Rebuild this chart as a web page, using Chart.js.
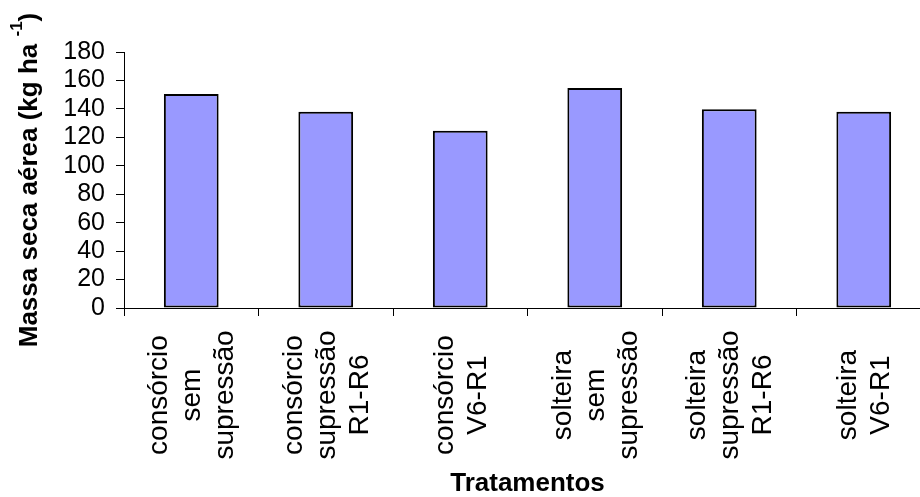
<!DOCTYPE html>
<html>
<head>
<meta charset="utf-8">
<script src="https://cdn.jsdelivr.net/npm/chart.js@4/dist/chart.umd.min.js"></script>
<style>
  html, body { margin: 0; padding: 0; background: #fff; overflow: hidden; }
  #wrap { width: 920px; height: 497px; overflow: hidden; position: relative; }
  canvas { display: block; }
</style>
</head>
<body>
<div id="wrap"><canvas id="c" width="940" height="497"></canvas></div>
<script>
// Treatments (one array of lines per category)
const categories = [
  ['consórcio', 'sem', 'supressão'],
  ['consórcio', 'supressão', 'R1-R6'],
  ['consórcio', 'V6-R1'],
  ['solteira', 'sem', 'supressão'],
  ['solteira', 'supressão', 'R1-R6'],
  ['solteira', 'V6-R1']
];

// Shoot dry mass (kg ha-1)
const massaSeca = [150.4, 138.0, 124.7, 154.7, 139.7, 138.0];

const yTicks = [0, 20, 40, 60, 80, 100, 120, 140, 160, 180];

const yTitleMain = 'Massa seca aérea (kg ha';
const yTitleSup = '-1';
const yTitleEnd = ')';
const xTitle = 'Tratamentos';

const FONT = '"Liberation Sans", Arial, sans-serif';

// Multi-line category labels, rotated and centred under each bar
const treatmentLabels = {
  id: 'treatmentLabels',
  afterDraw(chart) {
    const ctx = chart.ctx;
    const xs = chart.scales.x;
    const size = 28, lineH = 33;
    ctx.save();
    ctx.fillStyle = '#000';
    ctx.font = size + 'px ' + FONT;
    ctx.textAlign = 'center';
    ctx.textBaseline = 'alphabetic';
    categories.forEach((lines, i) => {
      const cx = xs.getPixelForValue(i);
      const n = lines.length;
      lines.forEach((txt, j) => {
        const bx = cx + (j - (n - 1) / 2) * lineH + 9;
        ctx.save();
        ctx.translate(bx, 395);
        ctx.rotate(-Math.PI / 2);
        ctx.fillText(txt, 0, 0);
        ctx.restore();
      });
    });
    ctx.restore();
  }
};

// Y axis title with superscript unit exponent
const yAxisTitle = {
  id: 'yAxisTitle',
  afterDraw(chart) {
    const ctx = chart.ctx;
    const area = chart.chartArea;
    const cy = (area.top + area.bottom) / 2;
    const big = 'bold 26px ' + FONT;
    const small = 'bold 17px ' + FONT;
    ctx.save();
    ctx.fillStyle = '#000';
    ctx.textBaseline = 'alphabetic';
    ctx.textAlign = 'left';
    ctx.font = big;
    const mainW = ctx.measureText(yTitleMain).width;
    const gap = ctx.measureText(' ').width;
    const endW = ctx.measureText(yTitleEnd).width;
    ctx.font = small;
    const supW = ctx.measureText(yTitleSup).width;
    const total = mainW + gap + supW + endW;
    ctx.translate(37, cy);
    ctx.rotate(-Math.PI / 2);
    let x0 = -total / 2;
    ctx.font = big;
    ctx.fillText(yTitleMain, x0, 0);
    x0 += mainW + gap;
    ctx.font = small;
    ctx.fillText(yTitleSup, x0, -15);
    x0 += supW;
    ctx.font = big;
    ctx.fillText(yTitleEnd, x0, 0);
    ctx.restore();
  }
};

new Chart(document.getElementById('c'), {
  type: 'bar',
  data: {
    labels: categories,
    datasets: [{
      data: massaSeca,
      backgroundColor: '#9999FF',
      borderColor: '#000000',
      borderWidth: 2,
      borderSkipped: false,
      barPercentage: 0.407,
      categoryPercentage: 1.0
    }]
  },
  options: {
    responsive: false,
    devicePixelRatio: 1,
    animation: false,
    layout: { padding: { top: 52, right: 9, left: 0, bottom: 0 } },
    plugins: {
      legend: { display: false },
      tooltip: { enabled: false },
      title: { display: false }
    },
    scales: {
      x: {
        afterFit: s => { s.height = 189; },
        grid: {
          offset: true,
          drawOnChartArea: false,
          drawTicks: true,
          tickLength: 8,
          tickColor: '#000',
          lineWidth: 1
        },
        border: { display: true, color: '#000', width: 1 },
        ticks: { display: false },
        title: {
          display: true,
          text: xTitle,
          color: '#000',
          font: { family: FONT, size: 26, weight: 'bold', lineHeight: 1 },
          padding: 0
        }
      },
      y: {
        min: 0,
        max: 180,
        afterBuildTicks: s => { s.ticks = yTicks.map(v => ({ value: v })); },
        afterFit: s => { s.width = 124; },
        grid: {
          drawOnChartArea: false,
          drawTicks: true,
          tickLength: 8,
          tickColor: '#000',
          lineWidth: 1
        },
        border: { display: true, color: '#000', width: 1 },
        ticks: {
          autoSkip: false,
          color: '#000',
          font: { family: FONT, size: 25 },
          padding: 11
        }
      }
    }
  },
  plugins: [treatmentLabels, yAxisTitle]
});
</script>
</body>
</html>
